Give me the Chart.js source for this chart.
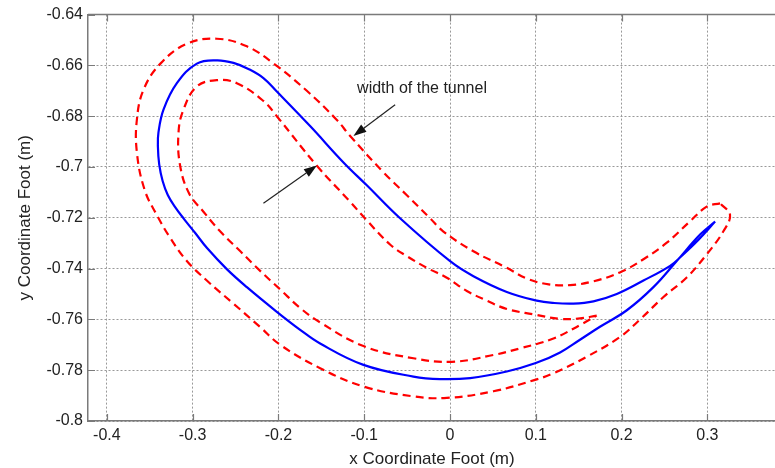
<!DOCTYPE html>
<html>
<head>
<meta charset="utf-8">
<script src="https://cdn.jsdelivr.net/npm/chart.js@4/dist/chart.umd.min.js"></script>
<style>
  html, body { margin: 0; padding: 0; background: #fff; overflow: hidden; }
  #wrap { width: 785px; height: 468px; }
</style>
</head>
<body>
<div id="wrap"><canvas id="c" width="785" height="468"></canvas></div>
<script>
// ---- data ----
const xTicks = [-0.4, -0.3, -0.2, -0.1, 0, 0.1, 0.2, 0.3];
const yTicks = [-0.64, -0.66, -0.68, -0.7, -0.72, -0.74, -0.76, -0.78, -0.8];

// centre path of the foot (closed loop)
const blueX = [0.309, 0.290, 0.270, 0.2566, 0.2255, 0.1944, 0.1672, 0.1438, 0.1200, 0.1012, 0.0662, 0.0273, 0.0001, -0.0582, -0.0970, -0.1242, -0.1631, -0.2019, -0.2175, -0.2350, -0.2524, -0.2718, -0.2951, -0.3184, -0.3340, -0.3399, -0.3405, -0.3390, -0.3350, -0.3290, -0.3200, -0.3100, -0.2970, -0.2835, -0.2602, -0.2368, -0.2019, -0.1747, -0.1514, -0.1009, -0.0427, -0.0115, 0.0235, 0.0662, 0.1000, 0.1283, 0.1515, 0.1748, 0.2061, 0.2371, 0.2643, 0.2915, 0.309];
const blueY = [-0.7215, -0.7285, -0.7350, -0.7389, -0.7447, -0.7500, -0.7529, -0.7538, -0.7535, -0.7526, -0.7492, -0.7430, -0.7371, -0.7202, -0.7072, -0.6982, -0.6839, -0.6703, -0.6650, -0.6614, -0.6590, -0.6580, -0.6593, -0.6670, -0.6774, -0.6865, -0.6920, -0.6990, -0.7055, -0.7110, -0.7160, -0.7205, -0.7260, -0.7318, -0.7402, -0.7473, -0.7570, -0.7641, -0.7695, -0.7779, -0.7825, -0.7835, -0.7831, -0.7805, -0.7772, -0.7730, -0.7680, -0.7629, -0.7564, -0.7473, -0.7370, -0.7266, -0.7215];

// outer border of the tunnel
const outerX = [0.3148, 0.2992, 0.2798, 0.2527, 0.2255, 0.1980, 0.1672, 0.1400, 0.1150, 0.0900, 0.0662, 0.0273, -0.0077, -0.0232, -0.0500, -0.0776, -0.1164, -0.1319, -0.1669, -0.2058, -0.2368, -0.2718, -0.3068, -0.3376, -0.3573, -0.3650, -0.3650, -0.3560, -0.3418, -0.3262, -0.3068, -0.2835, -0.2524, -0.2213, -0.1980, -0.1514, -0.1009, -0.0427, -0.0037, 0.0506, 0.0972, 0.1206, 0.1594, 0.1982, 0.2216, 0.2488, 0.2759, 0.2992, 0.3187, 0.3264, 0.3148];
const outerY = [-0.7143, -0.7156, -0.7214, -0.7298, -0.7363, -0.7415, -0.7450, -0.7465, -0.7462, -0.7440, -0.7397, -0.7332, -0.7254, -0.7202, -0.7112, -0.7021, -0.6878, -0.6815, -0.6700, -0.6592, -0.6525, -0.6495, -0.6515, -0.6593, -0.6696, -0.6813, -0.6943, -0.7090, -0.7189, -0.7279, -0.7370, -0.7447, -0.7538, -0.7630, -0.7700, -0.7792, -0.7864, -0.7903, -0.7909, -0.7883, -0.7840, -0.7812, -0.7747, -0.7669, -0.7600, -0.7512, -0.7435, -0.7344, -0.7253, -0.7188, -0.7143];

// inner border of the tunnel
const innerX = [0.1710, 0.1516, 0.1283, 0.0972, 0.0662, 0.0429, 0.0196, -0.0037, -0.0270, -0.0503, -0.0696, -0.0970, -0.1164, -0.1552, -0.2019, -0.2175, -0.2485, -0.2718, -0.2951, -0.3107, -0.3165, -0.3146, -0.3040, -0.2874, -0.2680, -0.2447, -0.2213, -0.1980, -0.1747, -0.1514, -0.1009, -0.0427, 0.0023, 0.0506, 0.0817, 0.1206, 0.1516, 0.1710];
const innerY = [-0.7585, -0.7596, -0.7598, -0.7580, -0.7559, -0.7526, -0.7488, -0.7436, -0.7397, -0.7351, -0.7306, -0.7210, -0.7137, -0.6995, -0.6800, -0.6740, -0.6670, -0.6658, -0.6683, -0.6774, -0.6865, -0.6995, -0.7105, -0.7176, -0.7253, -0.7331, -0.7409, -0.7482, -0.7555, -0.7612, -0.7705, -0.7753, -0.7767, -0.7740, -0.7714, -0.7675, -0.7622, -0.7585];

// annotation (data coordinates)
const noteText = "width of the tunnel";
const notePos = [-0.1083, -0.6690];
const arrowFromX = [-0.0640, -0.2175];
const arrowFromY = [-0.6755, -0.7143];
const arrowToX = [-0.1126, -0.1552];
const arrowToY = [-0.6878, -0.6994];

const toPts = (xs, ys) => xs.map((x, i) => ({ x: x, y: ys[i] }));

const FONT = "'Liberation Sans', Arial, sans-serif";
const AXIS_COLOR = '#7a7a7a';
const TEXT_COLOR = '#222';

const framePlugin = {
  id: 'frame',
  afterDatasetsDraw(chart) {
    const { ctx, chartArea: a, scales } = chart;
    const xs = scales.x, ys = scales.y;
    ctx.save();
    ctx.strokeStyle = AXIS_COLOR;
    ctx.lineWidth = 1.5;
    ctx.beginPath();
    ctx.moveTo(a.left, a.top);
    ctx.lineTo(a.right + 2, a.top);
    ctx.stroke();
    ctx.lineWidth = 1.2;
    const tl = 7;
    ctx.beginPath();
    xTicks.forEach(v => {
      const px = Math.round(xs.getPixelForValue(v)) + 0.5;
      ctx.moveTo(px, a.bottom); ctx.lineTo(px, a.bottom - tl);
      ctx.moveTo(px, a.top); ctx.lineTo(px, a.top + tl);
    });
    yTicks.forEach(v => {
      const py = Math.round(ys.getPixelForValue(v)) + 0.5;
      ctx.moveTo(a.left, py); ctx.lineTo(a.left + tl, py);
    });
    ctx.stroke();

    // annotation arrows
    ctx.strokeStyle = '#222';
    ctx.fillStyle = '#111';
    ctx.lineWidth = 1.2;
    for (let i = 0; i < arrowFromX.length; i++) {
      const x1 = xs.getPixelForValue(arrowFromX[i]);
      const y1 = ys.getPixelForValue(arrowFromY[i]);
      const x2 = xs.getPixelForValue(arrowToX[i]);
      const y2 = ys.getPixelForValue(arrowToY[i]);
      const ang = Math.atan2(y2 - y1, x2 - x1);
      const hl = 13, hw = 4.5;
      const bx = x2 - hl * Math.cos(ang), by = y2 - hl * Math.sin(ang);
      ctx.beginPath();
      ctx.moveTo(x1, y1); ctx.lineTo(bx, by);
      ctx.stroke();
      ctx.beginPath();
      ctx.moveTo(x2, y2);
      ctx.lineTo(bx + hw * Math.sin(ang), by - hw * Math.cos(ang));
      ctx.lineTo(bx - hw * Math.sin(ang), by + hw * Math.cos(ang));
      ctx.closePath();
      ctx.fill();
    }
    ctx.fillStyle = TEXT_COLOR;
    ctx.font = '16px ' + FONT;
    ctx.textAlign = 'left';
    ctx.textBaseline = 'middle';
    ctx.fillText(noteText, xs.getPixelForValue(notePos[0]), ys.getPixelForValue(notePos[1]));
    ctx.restore();
  }
};

const fmt = v => String(+(+v).toFixed(2));

new Chart(document.getElementById('c'), {
  type: 'scatter',
  data: {
    datasets: [
      { label: 'outer', data: toPts(outerX, outerY), showLine: true, borderColor: '#ff0000', borderWidth: 2.2, borderDash: [8, 5], pointRadius: 0, tension: 0.4, fill: false },
      { label: 'inner', data: toPts(innerX, innerY), showLine: true, borderColor: '#ff0000', borderWidth: 2.2, borderDash: [8, 5], pointRadius: 0, tension: 0.4, fill: false },
      { label: 'path', data: toPts(blueX, blueY), showLine: true, borderColor: '#0000ff', borderWidth: 2.2, pointRadius: 0, tension: 0.4, fill: false }
    ]
  },
  options: {
    responsive: false,
    animation: false,
    events: [],
    layout: { padding: { top: 10, right: 9, left: 0, bottom: 0 } },
    plugins: { legend: { display: false }, tooltip: { enabled: false } },
    scales: {
      x: {
        type: 'linear', min: -0.422, max: 0.38,
        afterBuildTicks: s => { s.ticks = xTicks.map(v => ({ value: v })); },
        afterFit: s => { s.height = 47; },
        ticks: { autoSkip: false, maxRotation: 0, padding: 5, color: TEXT_COLOR, font: { family: FONT, size: 16 }, callback: fmt },
        grid: { color: '#999999', lineWidth: 1, drawTicks: false },
        border: { display: true, color: AXIS_COLOR, width: 1.5, dash: [2, 2] },
        title: { display: true, text: 'x Coordinate Foot (m)', color: TEXT_COLOR, font: { family: FONT, size: 17, lineHeight: 1 }, padding: { top: 0, bottom: 0 } }
      },
      y: {
        type: 'linear', min: -0.8, max: -0.64,
        afterBuildTicks: s => { s.ticks = yTicks.map(v => ({ value: v })); },
        afterFit: s => { s.width = 88; },
        ticks: { autoSkip: false, padding: 5, color: TEXT_COLOR, font: { family: FONT, size: 16 }, callback: fmt },
        grid: { color: '#999999', lineWidth: 1, drawTicks: false },
        border: { display: true, color: AXIS_COLOR, width: 1.5, dash: [2, 2] },
        title: { display: true, text: 'y Coordinate Foot (m)', color: TEXT_COLOR, font: { family: FONT, size: 17, lineHeight: 1 }, padding: { top: 16.5, bottom: 0 } }
      }
    }
  },
  plugins: [framePlugin]
});
</script>
</body>
</html>
